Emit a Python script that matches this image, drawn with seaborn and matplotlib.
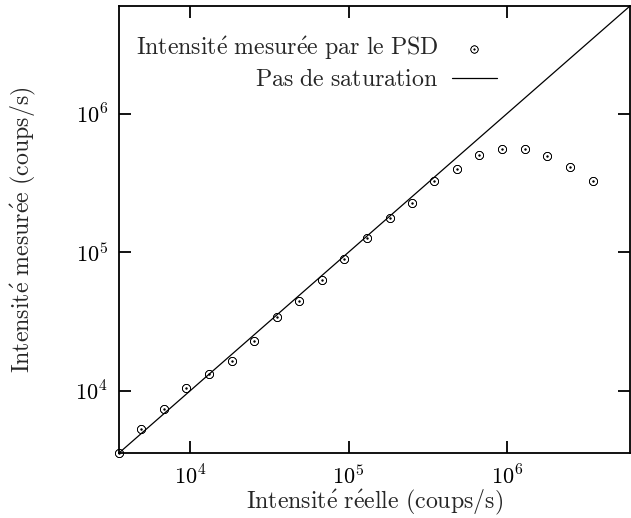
import matplotlib
matplotlib.use('Agg')
import matplotlib.pyplot as plt
from matplotlib.ticker import NullLocator
import seaborn as sns

# valeurs (coups/s)
intensite_reelle = [3550, 4910, 6790, 9400, 13090, 18240, 25180, 35160, 48750,
                    67610, 94190, 130900, 181600, 251800, 349100, 485300,
                    671500, 937600, 1300000, 1803000, 2495000, 3483000]
intensite_mesuree = [3550, 5300, 7410, 10400, 13180, 16290, 22700, 33960, 44260,
                     62810, 89950, 126500, 176200, 225900, 325800, 401800,
                     501200, 557200, 557200, 498900, 409300, 329600]
limites = [3550, 6.0e6]
graduations = [1e4, 1e5, 1e6]
etiquettes = [r'$10^{4}$', r'$10^{5}$', r'$10^{6}$']

# textes en Computer Modern (accents via mathtext, cmr10 n'a pas de é)
titre_x = r'$\mathrm{Intensit\acute{e}\ r\acute{e}elle\ (coups/s)}$'
titre_y = r'$\mathrm{Intensit\acute{e}\ mesur\acute{e}e\ (coups/s)}$'
leg_points = r'$\mathrm{Intensit\acute{e}\ mesur\acute{e}e\ par\ le\ PSD}$'
leg_ligne = r'$\mathrm{Pas\ de\ saturation}$'

sns.set_theme(style='ticks')
plt.rcParams['font.family'] = ['cmr10', 'DejaVu Serif']
plt.rcParams['mathtext.fontset'] = 'cm'
plt.rcParams['axes.formatter.use_mathtext'] = True

fig = plt.figure(figsize=(6.31, 5.18), dpi=100)
ax = fig.add_axes([119 / 631, 1 - 453 / 518, 511 / 631, 447 / 518])

sns.scatterplot(x=intensite_reelle, y=intensite_mesuree, ax=ax,
                marker=r'$\odot$', s=38, color='black', edgecolor='black',
                linewidth=0.35, label=leg_points, zorder=3, clip_on=False)
# pas de saturation : mesure = reelle
sns.lineplot(x=limites, y=limites, ax=ax, color='black', linewidth=0.9,
             label=leg_ligne)

ax.set_xscale('log')
ax.set_yscale('log')
ax.set_xlim(limites)
ax.set_ylim(limites)
ax.set_xticks(graduations, etiquettes)
ax.set_yticks(graduations, etiquettes)
ax.xaxis.set_minor_locator(NullLocator())
ax.yaxis.set_minor_locator(NullLocator())
ax.tick_params(direction='in', length=8.5, width=1.3, top=True, right=True,
               labelsize=16, pad=8, colors='black')

for sp in ax.spines.values():
    sp.set_linewidth(1.3)
    sp.set_color('black')

ax.set_xlabel(titre_x, fontsize=17.2)
ax.set_ylabel(titre_y, fontsize=17.2)
ax.xaxis.set_label_coords(0.5, -0.078)
ax.yaxis.set_label_coords(-0.158, 0.5)

ax.legend(loc='upper right', bbox_to_anchor=(0.74, 0.937), markerfirst=False,
          frameon=False, fontsize=17.2, borderpad=0, borderaxespad=0,
          handlelength=1.9, handletextpad=0.55, labelspacing=0.3,
          markerscale=0.9)

fig.savefig('out.png', dpi=100)
